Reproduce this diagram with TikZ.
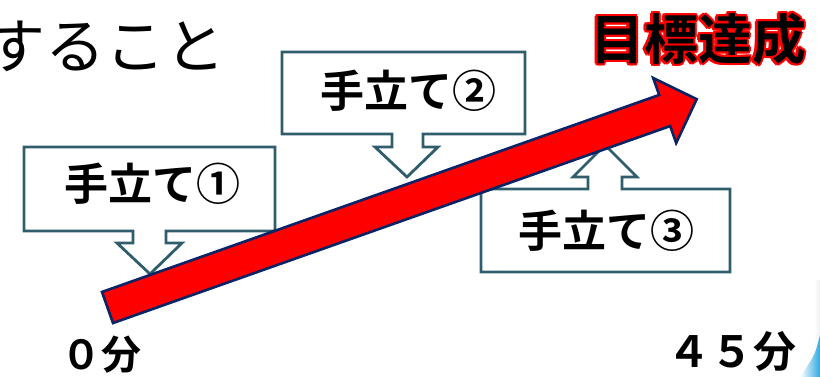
\documentclass[tikz,border=0pt]{standalone}
\usepackage{fontspec}
\newfontfamily\jp{Noto Sans CJK JP}[BoldFont={* Bold}]
\definecolor{boxline}{HTML}{2F5D6C}
\definecolor{arrowline}{HTML}{0A2466}
\definecolor{cornerblue}{HTML}{2FA8E0}
\begin{document}
\begin{tikzpicture}[x=1pt,y=-1pt,
  callout/.style={draw=boxline, line width=2.8pt, fill=white, line join=miter},
  label/.style={inner sep=0pt, font=\jp\bfseries\fontsize{44}{50}\selectfont},
  timelabel/.style={inner sep=0pt, font=\jp\bfseries\fontsize{40}{46}\selectfont},
  goaltext/.style={inner sep=0pt, font=\jp\bfseries\fontsize{54}{60}\selectfont}]
\useasboundingbox (0,0) rectangle (820,377);

% heading fragment, cut by the left edge
\node[inner sep=0pt, anchor=east, font=\jp\fontsize{60}{66}\selectfont] (head) at (226,46) {すること};

% callouts
\draw[callout] (24,147) -- (275,147) -- (275,231) -- (166,231) -- (166,243) -- (182,243)
  -- (150,274) -- (117,243) -- (133,243) -- (133,231) -- (24,231) -- cycle;
\node[label] (s1) at (152,184) {手立て①};

\draw[callout] (282,52) -- (525,52) -- (525,134) -- (423,134) -- (423,147) -- (438,147)
  -- (407,177) -- (375,147) -- (392,147) -- (392,134) -- (282,134) -- cycle;
\node[label] (s2) at (408,91) {手立て②};

\draw[callout] (481,272) -- (730,272) -- (730,189) -- (622,189) -- (622,177) -- (637,177)
  -- (605,145) -- (573,177) -- (588,177) -- (588,189) -- (481,189) -- cycle;
\node[label] (s3) at (606,231) {手立て③};

% progress arrow
\begin{scope}[shift={(107.5,307.5)}, rotate=19.47]
  \draw[fill=red, draw=arrowline, line width=2.6pt, line join=miter]
    (0,-16.5) -- (591,-16.5) -- (591,-34.5) -- (625,0) -- (591,34.5) -- (591,16.5) -- (0,16.5) -- cycle;
\end{scope}

% goal label with red outline
\foreach \a in {0,30,...,330}
  \node[goaltext, text=red, shift={(\a:2.1)}] at (698,39) {目標達成};
\node[goaltext] (goal) at (698,39) {目標達成};

% time axis labels
\node[timelabel] (t0) at (101,355) {０分};
\node[timelabel, font=\jp\bfseries\fontsize{43}{48}\selectfont] (t45) at (732,352) {４５分};

% corner decoration
\shade[left color=white, right color=black!6] (814,280) rectangle (820,377);
\shade[left color=white, right color=cornerblue]
  (820,335) .. controls (815,355) .. (800,377) -- (820,377) -- cycle;
\end{tikzpicture}
\end{document}
